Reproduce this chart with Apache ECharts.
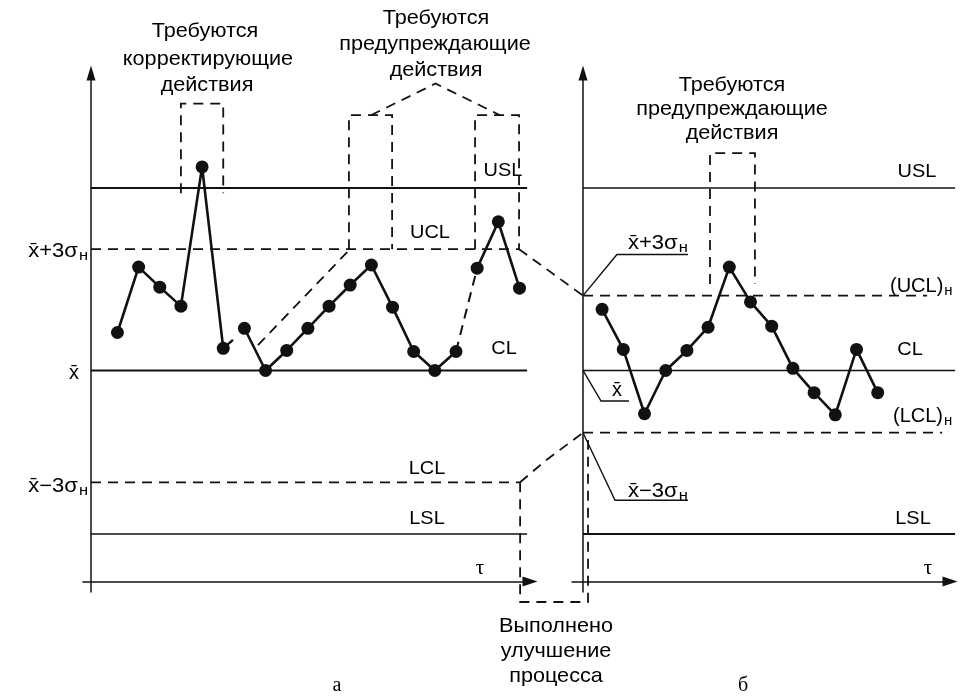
<!DOCTYPE html>
<html><head><meta charset="utf-8">
<script src="https://cdn.jsdelivr.net/npm/echarts@6/dist/echarts.min.js"></script>
<style>html,body{margin:0;padding:0;background:#fff}#c{width:971px;height:699px}</style>
</head><body><div id="c"></div>
<script>
// ---------- data ----------
const samplesA = [1,2,3,4,5,6,7,8,9,10,11,12,13,14,15,16,17,18,19,20];
const valuesA  = [23.6,29.8,27.9,26.1,39.3,22.1,24.0,20.0,21.9,24.0,26.1,28.1,30.0,26.0,21.8,20.0,21.8,29.7,34.1,27.8];
const samplesB = [1,2,3,4,5,6,7,8,9,10,11,12,13,14];
const valuesB  = [25.8,22.0,15.9,20.0,21.9,24.1,29.8,26.5,24.2,20.2,17.9,15.8,22.0,17.9];
const limitNamesA  = ['USL','UCL','CL','LCL','LSL'];
const limitValuesA = [37.3, 31.5, 20, 9.4, 4.5];
const limitNamesB  = ['USL','(UCL)н','CL','(LCL)н','LSL'];
const limitValuesB = [37.3, 27.1, 20, 14.1, 4.5];
// annotation geometry (data coordinates)
const tailA   = [[6,22.1],[6.46,22.9]];
const trendA  = [[7.64,22.4],[11.94,31.4]];
const boxA1   = [[4.0,36.8],[4.0,45.3],[6.0,45.3],[6.0,36.8]];
const boxA2   = [[11.94,31.5],[11.94,44.2],[13.98,44.2],[13.98,31.5]];
const boxA3   = [[17.9,31.5],[17.9,44.2],[19.98,44.2],[19.98,31.5]];
const tentA   = [[12.98,44.2],[16.03,47.2],[19.08,44.2]];
const linkUCL = [[19.98,31.5],[23.0,27.1]];
const linkLCL = [[20.03,9.4],[21.2,11.4],[23.0,14.1]];
const boxImprove = [[20.03,9.4],[20.03,-1.95],[23.24,-1.95],[23.24,13.4]];
const boxB    = [[6.09,28.2],[6.09,40.6],[8.21,40.6],[8.21,28.2]];
const leaderUp  = [[0.1,27.1],[1.70,31.0],[5.05,31.0]];
const leaderMid = [[0.1,20.0],[0.95,17.1],[2.27,17.1]];
const leaderLow = [[0.1,14.1],[1.61,7.7],[5.05,7.7]];

// ---------- layout ----------
const startA = -0.25, startB = 0.1;
const endsA = [20.36, 19.98, 20.36, 20.03, 20.36];
const endsB = [17.65, 16.33, 17.65, 17.04, 17.65];
const dashedLimit = [false, true, false, true, false];
const widthA = [2, 1.8, 2, 1.8, 1.6];
const widthB = [1.5, 1.8, 1.5, 1.8, 2];

const BLACK = '#111';
const DASH = [10, 7];
function pts(xs, ys, from, to) { const r = []; for (let i = from; i <= to; i++) r.push([xs[i], ys[i]]); return r; }
function poly(data, gi, dashed, width) {
  return { type: 'lines', coordinateSystem: 'cartesian2d', xAxisIndex: gi, yAxisIndex: gi, polyline: true,
    data: [{ coords: data }], clip: false, silent: true, animation: false, symbol: 'none',
    lineStyle: { color: BLACK, width: width || 1.8, type: dashed ? DASH : 'solid', opacity: 1, curveness: 0 }, z: 3 };
}
function dots(data, gi) {
  return { type: 'line', xAxisIndex: gi, yAxisIndex: gi, data: data, symbol: 'circle', symbolSize: 13, showAllSymbol: true,
    clip: false, silent: true, animation: false, itemStyle: { color: BLACK }, lineStyle: { color: BLACK, width: 2.6 }, z: 5 };
}
const series = [];
limitValuesA.forEach((v, i) => series.push(poly([[startA, v], [endsA[i], v]], 0, dashedLimit[i], widthA[i])));
limitValuesB.forEach((v, i) => series.push(poly([[startB, v], [endsB[i], v]], 1, dashedLimit[i], widthB[i])));
series.push(dots(pts(samplesA, valuesA, 0, 5), 0));
series.push(poly(tailA, 0, false, 2.4));
series.push(dots(pts(samplesA, valuesA, 6, 16), 0));
series.push(poly(pts(samplesA, valuesA, 16, 17), 0, true, 2));
series.push(dots(pts(samplesA, valuesA, 17, 19), 0));
series.push(dots(pts(samplesB, valuesB, 0, 13), 1));
[trendA, boxA1, boxA2, boxA3, tentA, linkUCL, linkLCL, boxImprove].forEach(d => series.push(poly(d, 0, true, 1.8)));
series.push(poly(boxB, 1, true, 1.8));
[leaderUp, leaderMid, leaderLow].forEach(d => series.push(poly(d, 1, false, 1.4)));

const axisLineStyle = { color: BLACK, width: 1.5 };
function xAx(gi, min, max) {
  return { gridIndex: gi, type: 'value', min: min, max: max,
    axisLine: { show: true, onZero: true, lineStyle: axisLineStyle, symbol: ['none', 'triangle'], symbolSize: [10, 15] },
    axisTick: { show: false }, axisLabel: { show: false }, splitLine: { show: false } };
}
function yAx(gi, off) {
  return { gridIndex: gi, type: 'value', min: -1, max: 48.2, offset: off,
    axisLine: { show: true, onZero: false, lineStyle: axisLineStyle, symbol: ['none', 'triangle'], symbolSize: [9, 15] },
    axisTick: { show: false }, axisLabel: { show: false }, splitLine: { show: false } };
}

const SANS = '"Liberation Sans", Arial, sans-serif';
const SERIF = '"Liberation Serif", "Times New Roman", serif';
function t(x, y, text, size, align, family, sx) {
  return { type: 'text', x: x, y: y, scaleX: sx || 1, silent: true, z: 10,
    style: { text: text, fill: '#000', fontSize: size, fontFamily: family || SANS, align: align || 'center', verticalAlign: 'middle' } };
}
function sub(x, y, main, s, align, sx) {
  return { type: 'text', x: x, y: y, scaleX: sx || 1, silent: true, z: 10,
    style: { text: '{m|' + main + '}{s|' + s + '}', fill: '#000', align: align, verticalAlign: 'middle',
      rich: { m: { fontSize: 20, fontFamily: SANS, fill: '#000' }, s: { fontSize: 15, fontFamily: SANS, fill: '#000', padding: [9, 0, 0, 1] } } } };
}
const XB = 'x\u0304';
const TS = 21, TX = 1.03;
const graphic = [
  t(205, 31, 'Требуются', TS, 'center', SANS, TX), t(208, 59, 'корректирующие', TS, 'center', SANS, TX), t(207, 85, 'действия', TS, 'center', SANS, TX),
  t(436, 18, 'Требуются', TS, 'center', SANS, TX), t(435, 44, 'предупреждающие', TS, 'center', SANS, TX), t(436, 70, 'действия', TS, 'center', SANS, TX),
  t(732, 85, 'Требуются', TS, 'center', SANS, TX), t(732, 109, 'предупреждающие', TS, 'center', SANS, TX), t(732, 133, 'действия', TS, 'center', SANS, TX),
  t(556, 626, 'Выполнено', TS, 'center', SANS, TX), t(556, 651, 'улучшение', TS, 'center', SANS, TX), t(556, 676, 'процесса', TS, 'center', SANS, TX),
  t(337, 686, 'а', 20, 'center', SERIF), t(743, 686, 'б', 20, 'center', SERIF),
  sub(88, 251, XB + '+3σ', 'н', 'right', 1.1), t(74, 373, XB, 20), sub(88, 486, XB + '−3σ', 'н', 'right', 1.1),
  t(503, 171, limitNamesA[0], 19, 'center', SANS, 1.05), t(430, 233, limitNamesA[1], 19, 'center', SANS, 1.05), t(504, 349, limitNamesA[2], 19, 'center', SANS, 1.05),
  t(427, 469, limitNamesA[3], 19, 'center', SANS, 1.05), t(427, 519, limitNamesA[4], 19, 'center', SANS, 1.05),
  t(480, 568, 'τ', 21, 'center', SERIF),
  t(917, 172, limitNamesB[0], 19, 'center', SANS, 1.05), sub(890, 286, '(UCL)', 'н', 'left'), t(910, 350, limitNamesB[2], 19, 'center', SANS, 1.05),
  sub(893, 416, '(LCL)', 'н', 'left'), t(913, 519, limitNamesB[4], 19, 'center', SANS, 1.05),
  t(928, 568, 'τ', 21, 'center', SERIF),
  sub(628, 243, XB + '+3σ', 'н', 'left', 1.1), t(617, 390, XB, 20), sub(628, 491, XB + '−3σ', 'н', 'left', 1.1)
];

const chart = echarts.init(document.getElementById('c'), null, { renderer: 'canvas' });
chart.setOption({
  animation: false,
  backgroundColor: '#fff',
  grid: [{ left: 83, top: 73, width: 447, height: 519 }, { left: 572, top: 73, width: 378, height: 519 }],
  xAxis: [xAx(0, -0.628, 20.497), xAx(1, -0.419, 17.41)],
  yAxis: [yAx(0, -8), yAx(1, -11)],
  series: series,
  graphic: graphic
});
</script></body></html>
